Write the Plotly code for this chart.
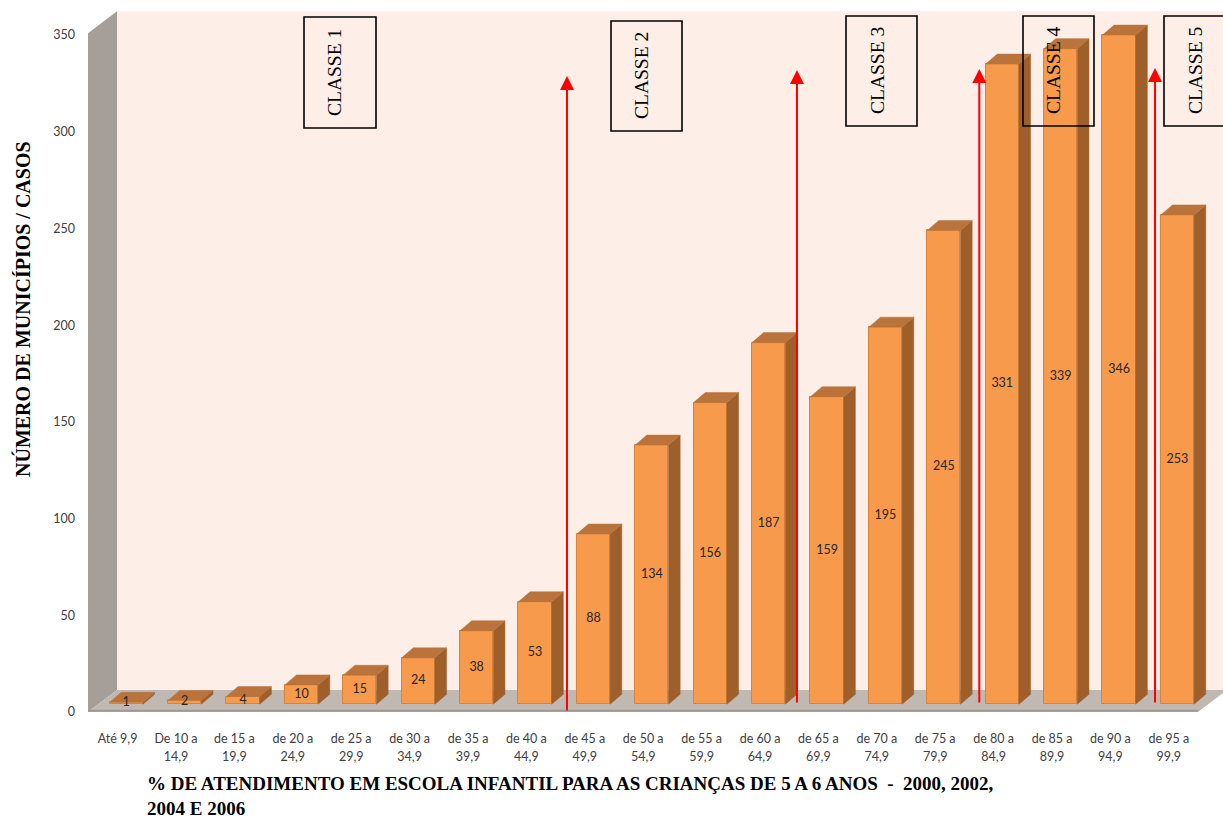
import plotly.graph_objects as go

# ---- data -------------------------------------------------------------
CATEGORY_LINE1 = ["Até 9,9", "De 10 a", "de 15 a", "de 20 a", "de 25 a", "de 30 a",
                  "de 35 a", "de 40 a", "de 45 a", "de 50 a", "de 55 a", "de 60 a",
                  "de 65 a", "de 70 a", "de 75 a", "de 80 a", "de 85 a", "de 90 a",
                  "de 95 a"]
CATEGORY_LINE2 = ["", "14,9", "19,9", "24,9", "29,9", "34,9", "39,9", "44,9", "49,9",
                  "54,9", "59,9", "64,9", "69,9", "74,9", "79,9", "84,9", "89,9",
                  "94,9", "99,9"]
CASES = [1, 2, 4, 10, 15, 24, 38, 53, 88, 134, 156, 187, 159, 195, 245, 331, 339, 346, 253]
Y_TICKS = [0, 50, 100, 150, 200, 250, 300, 350]
CLASS_NAMES = ["CLASSE 1", "CLASSE 2", "CLASSE 3", "CLASSE 4", "CLASSE 5"]

# ---- canvas / projection constants -------------------------------------
W, H = 1223, 821
X_RANGE = [-0.5068, 18.928]
Y_RANGE = [-5.171, 368.15]
X_DOMAIN = [88 / W, 1.0]
Y_DOMAIN = [1 - 722 / H, 1.0]

WALL_DX, WALL_DY = 0.4966, 11.375      # depth of the floor / side wall
WALL_TOP = 351.0                        # front top edge of the side wall
FLOOR_RIGHT = 18.50                     # front-right corner of the floor
BAR_DX, BAR_BASE = 0.148, 4.0           # bars stand a little behind the front edge
BAR_W = 0.570
DEPTH_X, DEPTH_Y = 0.20, 5.17           # depth of each bar box

FRONT = "#F79A4B"
TOP = "#BA733A"
SIDE = "#9E5F2B"
EDGE = "#D9833A"
WALL_BACK = "#FDEEE7"
WALL_SIDE = "#A59E99"
FLOOR = "#BFB8B3"
FLOOR_EDGE = "#9E9893"

TEXT_FONT = "Lato, 'Open Sans', sans-serif"
SERIF = "'Liberation Serif', 'Times New Roman', serif"


def px_x(p):
    return p / W


def px_y(p):
    return 1 - p / H


xs = [i + BAR_DX for i in range(len(CASES))]
tops = [BAR_BASE + v for v in CASES]

# top and right faces of each bar box
top_x, top_y, side_x, side_y = [], [], [], []
for x, t in zip(xs, tops):
    xl, xr = x - BAR_W / 2, x + BAR_W / 2
    top_x += [xl, xr, xr + DEPTH_X, xl + DEPTH_X, xl, None]
    top_y += [t, t, t + DEPTH_Y, t + DEPTH_Y, t, None]
    side_x += [xr, xr + DEPTH_X, xr + DEPTH_X, xr, xr, None]
    side_y += [BAR_BASE, BAR_BASE + DEPTH_Y, t + DEPTH_Y, t, BAR_BASE, None]

fig = go.Figure()

fig.add_trace(go.Scatter(x=side_x, y=side_y, mode="lines", fill="toself",
                         fillcolor=SIDE, line=dict(color=SIDE, width=0.5),
                         hoverinfo="skip", showlegend=False))
fig.add_trace(go.Scatter(x=top_x, y=top_y, mode="lines", fill="toself",
                         fillcolor=TOP, line=dict(color=TOP, width=0.5),
                         hoverinfo="skip", showlegend=False))
fig.add_trace(go.Bar(x=xs, y=CASES, base=BAR_BASE, width=BAR_W,
                     marker=dict(color=FRONT, line=dict(color=EDGE, width=1)),
                     showlegend=False, hoverinfo="skip"))
# value labels in the middle of each front face
fig.add_trace(go.Scatter(x=xs, y=[BAR_BASE + v / 2 for v in CASES],
                         text=[str(v) for v in CASES], mode="text",
                         textfont=dict(family=TEXT_FONT, size=12.5, color="#262626"),
                         xaxis="x2", yaxis="y", showlegend=False, hoverinfo="skip"))

# ---- walls and floor ---------------------------------------------------
x0 = X_RANGE[0]
shapes = [
    # back wall
    dict(type="path", xref="x", yref="y", layer="below", line=dict(width=0),
         fillcolor=WALL_BACK,
         path=f"M{x0 + WALL_DX},{WALL_DY} L{X_RANGE[1] + 1},{WALL_DY} "
              f"L{X_RANGE[1] + 1},{WALL_TOP + WALL_DY} L{x0 + WALL_DX},{WALL_TOP + WALL_DY} Z"),
    # side wall
    dict(type="path", xref="x", yref="y", layer="below", line=dict(width=0),
         fillcolor=WALL_SIDE,
         path=f"M{x0},0 L{x0 + WALL_DX},{WALL_DY} L{x0 + WALL_DX},{WALL_TOP + WALL_DY} "
              f"L{x0},{WALL_TOP} Z"),
    # floor
    dict(type="path", xref="x", yref="y", layer="below", line=dict(width=0),
         fillcolor=FLOOR,
         path=f"M{x0},0 L{FLOOR_RIGHT},0 L{FLOOR_RIGHT + WALL_DX},{WALL_DY} "
              f"L{x0 + WALL_DX},{WALL_DY} Z"),
    dict(type="line", xref="x", yref="y", layer="below",
         x0=x0, x1=FLOOR_RIGHT, y0=0.6, y1=0.6, line=dict(color=FLOOR_EDGE, width=2)),
]

# class boxes (pixel positions on the page)
class_boxes = [(304, 17, 376, 128), (611, 21, 682, 131), (846, 16, 917, 126),
               (1023, 16, 1094, 126), (1164, 16, 1235, 126)]
class_text = [(335, 73), (642, 76), (877, 71), (1053, 71), (1195, 71)]
for (bx0, by0, bx1, by1) in class_boxes:
    shapes.append(dict(type="rect", xref="paper", yref="paper", layer="above",
                       x0=px_x(bx0), x1=px_x(bx1), y0=px_y(by1), y1=px_y(by0),
                       line=dict(color="#000000", width=1.6),
                       fillcolor="rgba(0,0,0,0)"))

annotations = []
for name, (tx, ty) in zip(CLASS_NAMES, class_text):
    annotations.append(dict(text=name, xref="paper", yref="paper",
                            x=px_x(tx), y=px_y(ty), showarrow=False, textangle=-90,
                            xanchor="center", yanchor="middle",
                            font=dict(family=SERIF, size=19.5, color="#000000")))

# red arrows separating the classes
ARROW_X = [7.695, 11.633, 14.755, 17.764]
ARROW_TIP = [328.9, 331.9, 332.5, 333.0]
ARROW_TAIL = [0.0, 4.2, 4.2, 4.2]
for ax_, tip, tail in zip(ARROW_X, ARROW_TIP, ARROW_TAIL):
    annotations.append(dict(x=ax_, y=tip, ax=ax_, ay=tail, xref="x", yref="y",
                            axref="x", ayref="y", text="", showarrow=True,
                            arrowhead=2, arrowsize=1.4, arrowwidth=2,
                            arrowcolor="#FF0000"))

# axis titles
annotations.append(dict(text="<b>NÚMERO DE MUNICÍPIOS / CASOS</b>", xref="paper",
                        yref="paper", x=px_x(22), y=px_y(309), showarrow=False,
                        textangle=-90, xanchor="center", yanchor="middle",
                        font=dict(family=SERIF, size=20, color="#000000")))
annotations.append(dict(text="<b>% DE ATENDIMENTO EM ESCOLA INFANTIL PARA AS CRIANÇAS "
                             "DE 5 A 6 ANOS  -  2000, 2002,<br>2004 E 2006</b>",
                        xref="paper", yref="paper", x=px_x(145), y=px_y(820.5),
                        showarrow=False, xanchor="left", yanchor="bottom", align="left",
                        font=dict(family=SERIF, size=19, color="#000000")))

tick_font = dict(family=TEXT_FONT, size=12.5, color="#404040")
fig.update_layout(
    width=W, height=H,
    margin=dict(l=0, r=0, t=0, b=0),
    paper_bgcolor="#FFFFFF", plot_bgcolor="#FFFFFF",
    bargap=0,
    shapes=shapes, annotations=annotations,
    xaxis=dict(range=X_RANGE, domain=X_DOMAIN, tickvals=list(range(len(CASES))),
               ticktext=CATEGORY_LINE1, showgrid=False, zeroline=False,
               showline=False, ticks="", tickfont=tick_font, ticklabelstandoff=7,
               fixedrange=True),
    xaxis2=dict(range=X_RANGE, domain=X_DOMAIN, tickvals=list(range(len(CASES))),
                ticktext=CATEGORY_LINE2, showgrid=False, zeroline=False,
                showline=False, ticks="", tickfont=tick_font, ticklabelstandoff=25,
                overlaying="x", matches="x", anchor="y", side="bottom",
                fixedrange=True),
    yaxis=dict(range=Y_RANGE, domain=Y_DOMAIN, tickvals=Y_TICKS,
               showgrid=False, zeroline=False, showline=False, ticks="",
               tickfont=tick_font, ticklabelstandoff=12, fixedrange=True),
)

fig.write_html("out.html")
